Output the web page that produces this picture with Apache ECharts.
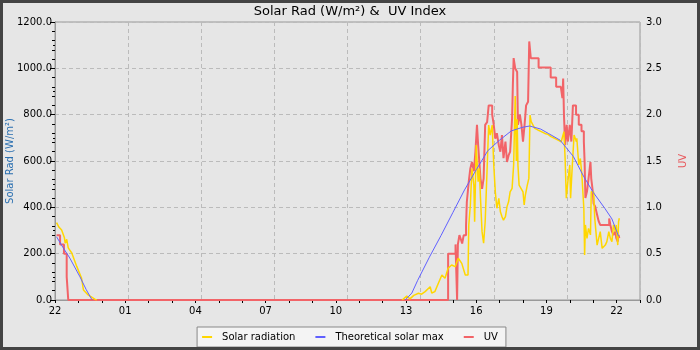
<!DOCTYPE html>
<html>
<head>
<meta charset="utf-8">
<script src="https://cdn.jsdelivr.net/npm/echarts@6/dist/echarts.min.js"></script>
<style>
  html, body { margin: 0; padding: 0; background: #e6e6e6; }
  #chart { width: 700px; height: 350px; }
</style>
</head>
<body>
<div id="chart"></div>
<script>
// Solar radiation readings (W/m²), clock time "HH:MM"; null breaks the line overnight
const solarTimes = [
  '22:04','22:10','22:17','22:24','22:26','22:30','22:34','22:43','22:56','23:08','23:13','23:25','23:42','23:47',
  '06:00',
  '12:50','12:53','13:02','13:10','13:20','13:32','13:40','13:49','14:02','14:06','14:14','14:23','14:32','14:40',
  '14:48','14:57','15:06','15:14','15:23','15:32','15:39','15:41','15:45','15:49','15:54','15:56','16:00','16:05',
  '16:08','16:11','16:15','16:19','16:23','16:28','16:32','16:36','16:41','16:45','16:49','16:53','16:58','17:02',
  '17:06','17:10','17:15','17:19','17:23','17:27','17:32','17:36','17:40','17:43','17:45','17:47','17:50','18:00',
  '18:03','18:06','18:11','18:15','18:18','18:21','18:30','18:38','18:47','18:56','19:04','19:12','19:21','19:30',
  '19:38','19:45','19:48','19:51','19:55','20:00','20:02','20:06','20:11','20:17','20:18','20:23','20:27','20:31',
  '20:36','20:38','20:40','20:44','20:48','20:53','20:55','21:01','21:04','21:07','21:10','21:14','21:18','21:23',
  '21:31','21:35','21:40','21:44','21:48','21:52','21:57','21:59','22:03','22:05','22:07'
];
const solarValues = [
  334,315,302,270,245,262,225,203,144,95,43,22,4,0,
  null,
  0,7,17,5,20,29,25,36,57,30,36,72,108,94,
  137,151,144,180,158,108,108,324,410,568,496,338,669,511,
  568,439,295,245,338,568,755,712,755,583,467,396,439,381,
  360,345,360,403,424,467,482,583,880,600,780,583,496,467,
  410,453,496,525,798,770,741,734,727,719,715,705,698,690,
  683,727,611,439,511,583,439,568,712,683,698,583,611,540,
  396,194,324,266,309,281,467,467,353,295,237,266,295,223,
  237,252,295,266,252,324,295,324,237,338,353
];

// Theoretical clear-sky maximum (W/m²)
const theoTimes = [
  '22:04','22:20','22:38','23:04','23:20','23:34','23:36',
  '06:00',
  '12:58','13:15','13:30','14:00','14:30','15:00','15:30','16:00','16:30','17:00','17:30','18:00','18:17',
  '18:45','19:05','19:35','20:09','20:35','21:00','21:30','21:48','22:05'
];
const theoValues = [
  273,228,181,100,45,3,0,
  null,
  0,30,85,185,279,377,475,562,645,690,730,746,751,
  738,719,690,620,535,465,395,350,275
];

// UV index
const uvTimes = [
  '22:04','22:13','22:23','22:30','22:34',
  '14:48','15:07','15:11','15:13','15:17','15:21','15:24','15:28','15:34','15:36','15:41','15:45','15:49','15:54',
  '15:58','16:02','16:05','16:08','16:11','16:15','16:19','16:23','16:28','16:32','16:41','16:45','16:49','16:53',
  '16:58','17:02','17:06','17:10','17:15','17:19','17:23','17:27','17:32','17:34','17:36','17:40','17:45','17:47',
  '17:52','17:56','18:00','18:04','18:08','18:13','18:16','18:20','18:40','19:11','19:25','19:37','19:41','19:43',
  '19:45','19:48','19:52','19:55','20:00','20:04','20:08','20:16','20:23','20:30','20:36','20:38','20:40','20:44',
  '20:48','20:53','20:55','20:59','21:01','21:05','21:10','21:14','21:18','21:41','21:44','21:48','21:52','21:57',
  '21:59','22:03','22:05','22:07'
];
const uvValues = [
  0.70,0.60,0.50,0.25,0.00,
  0.50,0.60,0.00,0.60,0.70,0.65,0.61,0.70,0.81,1.06,1.28,1.42,1.49,1.39,
  1.60,1.89,1.67,1.49,1.31,1.20,1.31,1.89,1.92,2.10,2.00,1.89,1.74,1.80,
  1.67,1.60,1.78,1.53,1.71,1.49,1.56,1.60,1.96,2.32,2.61,2.50,2.46,1.89,
  2.00,1.89,1.71,1.89,2.10,2.14,2.79,2.61,2.51,2.40,2.30,2.28,2.18,2.39,
  2.00,1.67,1.89,1.71,1.89,1.71,2.10,2.00,1.89,1.82,1.71,1.49,1.10,1.17,
  1.31,1.49,1.31,1.17,1.04,1.01,0.92,0.85,0.81,0.88,0.81,0.74,0.70,0.74,
  0.67,0.63,0.70,0.67
];

// Hour labels along the time axis
const hourLabels = ['22','01','04','07','10','13','16','19','22'];

// Axis starts at 22:00; times are converted to hours since then,
// rolling over to the next day whenever the clock goes backwards.
const START_MIN = 22 * 60;
function toHours(times) {
  let prev = -Infinity;
  return times.map(function (s) {
    const p = s.split(':');
    let rel = (+p[0]) * 60 + (+p[1]) - START_MIN;
    while (rel < prev) rel += 1440;
    prev = rel;
    return rel / 60;
  });
}
function pairs(times, values) {
  const hx = toHours(times);
  return hx.map(function (h, i) { return [h, values[i]]; });
}

const FONT = 'DejaVu Sans';
const chart = echarts.init(document.getElementById('chart'), null, { renderer: 'canvas' });

chart.setOption({
  animation: false,
  backgroundColor: '#e6e6e6',
  textStyle: { fontFamily: FONT },
  title: {
    text: 'Solar Rad (W/m²) &  UV Index',
    left: 'center',
    top: 5,
    padding: 0,
    textStyle: { fontFamily: FONT, fontSize: 13, fontWeight: 'normal', color: '#000' }
  },
  graphic: [{
    type: 'rect',
    silent: true,
    z: 100,
    shape: { x: 1.5, y: 1.5, width: 697, height: 347 },
    style: { fill: 'none', stroke: '#444', lineWidth: 3 }
  }],
  grid: {
    left: 55, right: 60, top: 22, bottom: 50,
    outerBoundsMode: 'none',
    containLabel: false,
    show: true, borderColor: '#999', borderWidth: 1, backgroundColor: 'transparent'
  },
  legend: {
    bottom: 3,
    left: 'center',
    icon: 'rect',
    itemWidth: 10,
    itemHeight: 2,
    itemGap: 20,
    padding: [5, 8, 5, 5],
    backgroundColor: '#f4f4f4',
    borderColor: '#888',
    borderWidth: 1,
    borderRadius: 0,
    textStyle: { fontFamily: FONT, fontSize: 10, color: '#000', padding: [0, 0, 0, 5] },
    data: ['Solar radiation', 'Theoretical solar max', 'UV']
  },
  xAxis: [{
    type: 'value',
    min: 0, max: 25, interval: 1,
    axisLine: { show: true, lineStyle: { color: '#999' } },
    axisTick: { show: true, length: 3, lineStyle: { color: '#000' } },
    axisLabel: {
      color: '#000', fontSize: 10, margin: 6,
      formatter: function (v) {
        return (v % 3 === 0 && v <= 24) ? hourLabels[v / 3] : '';
      }
    },
    splitLine: { show: false }
  }, {
    // second axis only carries the 3-hourly grid lines
    type: 'value',
    min: 0, max: 24, interval: 3,
    position: 'bottom',
    axisLine: { show: false },
    axisTick: { show: false },
    axisLabel: { show: false },
    splitLine: { show: true, lineStyle: { color: '#bbb', type: [4, 3] } }
  }],
  yAxis: [{
    type: 'value',
    min: 0, max: 1200, interval: 200,
    name: 'Solar Rad (W/m²)',
    nameLocation: 'middle',
    nameGap: 40,
    nameMoveOverlap: false,
    nameTextStyle: { color: '#2a6fb0', fontSize: 10, fontFamily: FONT },
    axisLine: { show: true, lineStyle: { color: '#999' } },
    axisTick: { show: true, length: 5, lineStyle: { color: '#000' } },
    minorTick: { show: true, splitNumber: 2, length: 2, lineStyle: { color: '#000' } },
    axisLabel: { color: '#000', fontSize: 10, margin: 3, formatter: function (v) { return v.toFixed(1); } },
    splitLine: { show: true, lineStyle: { color: '#bbb', type: [4, 3] } }
  }, {
    type: 'value',
    min: 0, max: 3, interval: 0.5,
    position: 'right',
    name: 'UV',
    nameLocation: 'middle',
    nameGap: 38,
    nameMoveOverlap: false,
    nameTextStyle: { color: '#e8585c', fontSize: 10, fontFamily: FONT },
    axisLine: { show: true, lineStyle: { color: '#999' } },
    axisTick: { show: true, inside: true, length: 5, lineStyle: { color: '#000' } },
    minorTick: { show: true, splitNumber: 5, length: 3, lineStyle: { color: '#000' } },
    axisLabel: { color: '#000', fontSize: 10, margin: 6, formatter: function (v) { return v.toFixed(1); } },
    splitLine: { show: false }
  }],
  series: [{
    name: 'Solar radiation',
    type: 'line',
    xAxisIndex: 0, yAxisIndex: 0,
    data: pairs(solarTimes, solarValues),
    showSymbol: false,
    connectNulls: false,
    z: 3,
    color: '#ffd700',
    lineStyle: { color: '#ffd700', width: 1.5 }
  }, {
    name: 'Theoretical solar max',
    type: 'line',
    xAxisIndex: 0, yAxisIndex: 0,
    data: pairs(theoTimes, theoValues),
    showSymbol: false,
    connectNulls: false,
    z: 4,
    color: '#6060ff',
    lineStyle: { color: '#6060ff', width: 1 }
  }, {
    name: 'UV',
    type: 'line',
    step: 'end',
    xAxisIndex: 0, yAxisIndex: 1,
    data: pairs(uvTimes, uvValues),
    showSymbol: false,
    z: 2,
    color: '#f26468',
    lineStyle: { color: '#f26468', width: 2 }
  }]
});
</script>
</body>
</html>
